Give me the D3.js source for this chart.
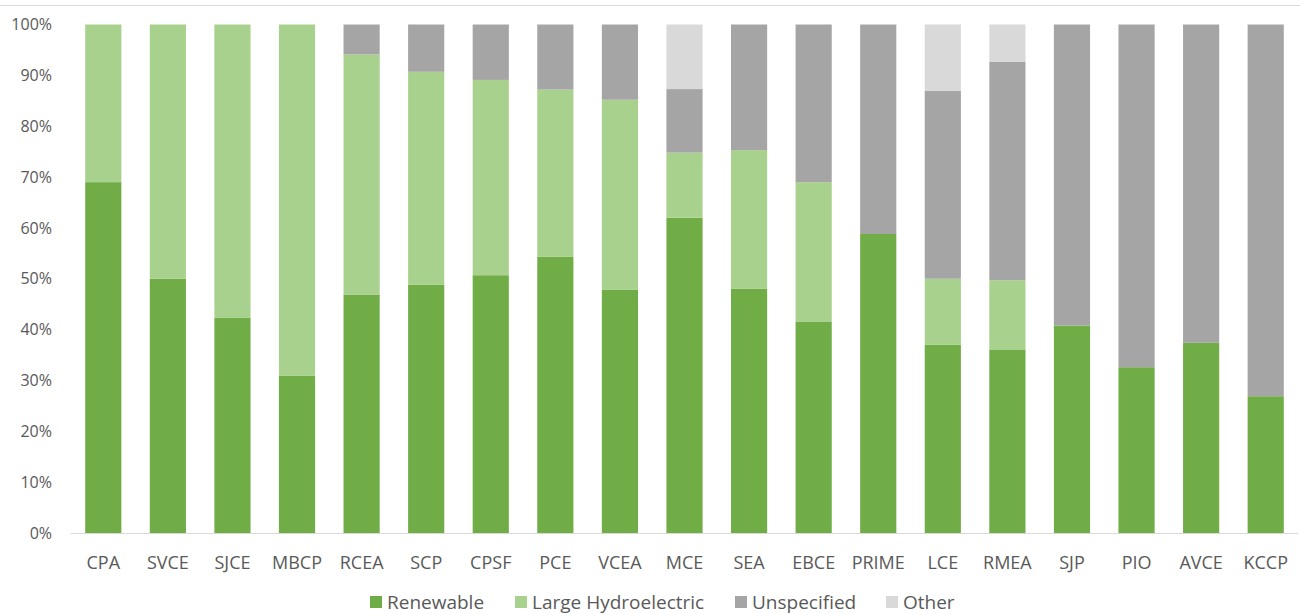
<!DOCTYPE html>
<html>
<head>
<meta charset="utf-8">
<script src="https://cdn.jsdelivr.net/npm/d3@7"></script>
<style>
  body { margin: 0; background: #fff; }
  svg { display: block; font-family: "Open Sans", sans-serif; }
</style>
</head>
<body>
<svg id="chart" width="1300" height="614"></svg>
<script>
// categories (community choice aggregators)
const categories = ["CPA", "SVCE", "SJCE", "MBCP", "RCEA", "SCP", "CPSF", "PCE", "VCEA", "MCE",
                    "SEA", "EBCE", "PRIME", "LCE", "RMEA", "SJP", "PIO", "AVCE", "KCCP"];

// series values, percent of the mix
const renewable   = [69.0, 50.0, 42.3, 30.9, 46.9, 48.8, 50.7, 54.3, 47.8, 62.0, 48.0, 41.6, 58.8, 37.0, 36.1, 40.8, 32.6, 37.4, 26.9];
const largeHydro  = [31.0, 50.0, 57.7, 69.1, 47.2, 41.9, 38.4, 32.9, 37.4, 12.8, 27.3, 27.4, 0, 13.0, 13.6, 0, 0, 0, 0];
const unspecified = [0, 0, 0, 0, 5.9, 9.3, 10.9, 12.8, 14.8, 12.5, 24.7, 31.0, 41.2, 37.0, 43.0, 59.2, 67.4, 62.6, 73.1];
const other       = [0, 0, 0, 0, 0, 0, 0, 0, 0, 12.7, 0, 0, 0, 13.0, 7.3, 0, 0, 0, 0];

const seriesNames = ["Renewable", "Large Hydroelectric", "Unspecified", "Other"];
const seriesColors = ["#70ad47", "#a9d18e", "#a5a5a5", "#d9d9d9"];

const yTicks = [0, 10, 20, 30, 40, 50, 60, 70, 80, 90, 100];

// build rows for the stack
const rows = categories.map((c, i) => ({
  name: c,
  "Renewable": renewable[i],
  "Large Hydroelectric": largeHydro[i],
  "Unspecified": unspecified[i],
  "Other": other[i]
}));

const svg = d3.select("#chart");
const textColor = "#595959";

// top border line of the chart area
svg.append("line")
  .attr("x1", 0).attr("x2", 1300)
  .attr("y1", 5.5).attr("y2", 5.5)
  .attr("stroke", "#d9d9d9");

const x = d3.scaleBand()
  .domain(categories)
  .range([71, 1298])
  .paddingInner(0.44)
  .paddingOuter(0.22);

const y = d3.scaleLinear()
  .domain([0, 100])
  .range([533, 24.5]);

const stack = d3.stack().keys(seriesNames);
const stacked = stack(rows);

const color = d3.scaleOrdinal().domain(seriesNames).range(seriesColors);

svg.append("g")
  .selectAll("g")
  .data(stacked)
  .join("g")
    .attr("fill", d => color(d.key))
  .selectAll("rect")
  .data(d => d)
  .join("rect")
    .attr("x", d => x(d.data.name))
    .attr("width", x.bandwidth())
    .attr("y", d => y(d[1]))
    .attr("height", d => y(d[0]) - y(d[1]));

// x axis
const xAxis = svg.append("g")
  .attr("transform", `translate(0,${y(0)})`)
  .call(d3.axisBottom(x).tickSize(0).tickPadding(0));
xAxis.select(".domain").attr("stroke", "#d9d9d9").attr("d", `M71,0.5H1298`);
xAxis.selectAll("text")
  .attr("y", 36)
  .attr("dy", 0)
  .attr("fill", textColor)
  .style("font-size", "18px")
  .style("font-family", "'Open Sans', sans-serif");

// y axis
const yAxis = svg.append("g")
  .attr("transform", "translate(52,0)")
  .call(d3.axisLeft(y).tickValues(yTicks).tickFormat(d => d + "%").tickSize(0).tickPadding(0));
yAxis.select(".domain").remove();
yAxis.selectAll("text")
  .attr("fill", textColor)
  .style("font-size", "16px")
  .style("font-family", "'Open Sans', sans-serif");

// legend
const legend = svg.append("g").attr("transform", "translate(0,602)");
const legendStarts = [370, 515, 735, 886];
seriesNames.forEach((name, i) => {
  const g = legend.append("g").attr("transform", `translate(${legendStarts[i]},0)`);
  g.append("rect")
    .attr("x", 0).attr("y", -6)
    .attr("width", 12).attr("height", 12)
    .attr("fill", seriesColors[i]);
  g.append("text")
    .attr("x", 17).attr("y", 6.5)
    .attr("fill", textColor)
    .style("font-size", "19px")
    .text(name);
});
</script>
</body>
</html>
